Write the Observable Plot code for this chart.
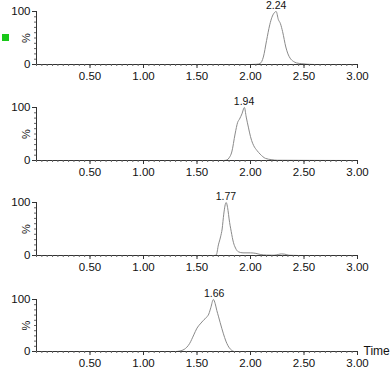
<!DOCTYPE html>
<html>
<head>
<meta charset="utf-8">
<script src="https://cdn.jsdelivr.net/npm/d3@7"></script>
<script src="https://cdn.jsdelivr.net/npm/@observablehq/plot@0.6"></script>
<style>
  html, body { margin: 0; padding: 0; background: #fff; }
  #wrap { position: relative; width: 392px; height: 368px; overflow: hidden; font-family: "Liberation Sans", Arial, sans-serif; }
  #marker { position: absolute; left: 2px; top: 34px; width: 7px; height: 7px; background: #19c819; }
</style>
</head>
<body>
<div id="wrap"><div id="marker"></div></div>
<script>
// Retention time (min) and relative intensity (%) for each trace
const t1 = [0, 2.00, 2.06, 2.09, 2.12, 2.15, 2.18, 2.20, 2.22, 2.24, 2.26, 2.28, 2.30, 2.33, 2.35, 2.37, 2.40, 2.43, 2.48, 2.53, 2.60, 3.00];
const v1 = [0, 0, 0.5, 2, 14, 45, 75, 89, 97, 100, 85, 77, 62, 33, 20, 12, 6, 3, 1.5, 0.5, 0, 0];

const t2 = [0, 1.75, 1.78, 1.80, 1.825, 1.856, 1.88, 1.897, 1.92, 1.943, 1.96, 1.98, 2.00, 2.01, 2.03, 2.06, 2.09, 2.14, 2.20, 2.25, 3.00];
const v2 = [0, 0, 1, 5, 16, 50, 72, 78, 88, 100, 82, 63, 45, 38, 28, 19, 12, 4, 1.5, 0.5, 0];

const t3 = [0, 1.66, 1.68, 1.70, 1.72, 1.735, 1.75, 1.772, 1.79, 1.80, 1.82, 1.84, 1.86, 1.887, 1.93, 2.00, 2.05, 2.09, 2.15, 2.22, 2.26, 2.29, 2.32, 2.36, 2.45, 3.00];
const v3 = [0, 0, 1, 20, 35, 50, 78, 100, 85, 69, 45, 25, 14, 7, 5, 5, 4, 2, 0.8, 0.5, 2, 3, 2.5, 0.5, 0, 0];

const t4 = [0, 1.30, 1.34, 1.38, 1.43, 1.47, 1.50, 1.53, 1.56, 1.59, 1.61, 1.63, 1.653, 1.67, 1.685, 1.70, 1.716, 1.747, 1.77, 1.79, 1.82, 1.85, 3.00];
const v4 = [0, 0, 1, 4, 15, 32, 45, 53, 60, 66, 72, 85, 100, 92, 79, 68, 56, 34, 20, 11, 3, 0, 0];

const traceTimes = [t1, t2, t3, t4];
const traceValues = [v1, v2, v3, v4];
const peakTimes = [2.24, 1.94, 1.77, 1.66];
const peakLabels = ["2.24", "1.94", "1.77", "1.66"];

const xTickValues = [0.5, 1.0, 1.5, 2.0, 2.5, 3.0];
const xTickLabels = ["0.50", "1.00", "1.50", "2.00", "2.50", "3.00"];
const yTickValues = [0, 100];
const yTickLabels = ["0", "100"];
const yAxisLabel = "%";
const xAxisLabel = "Time";

const panelTops = [0, 96, 191, 288];
const panelPlotHeights = [53, 53, 53, 52];

const xMinor = d3.range(0, 3.0001, 0.05).map(d => +d.toFixed(2));
const yMinor = d3.range(0, 100.001, 10);

const wrap = document.getElementById("wrap");
const font = "'Liberation Sans', Arial, sans-serif";

traceTimes.forEach((ts, i) => {
  const data = ts.map((t, j) => ({t, v: traceValues[i][j]}));
  const marginTop = 11, marginBottom = 20;
  const marks = [
    Plot.line(data, {x: "t", y: "v", stroke: "#8a8a8a", strokeWidth: 1, curve: "monotone-x"}),
    Plot.ruleY([0], {x1: 0, x2: 3, stroke: "#333", strokeWidth: 1}),
    Plot.ruleX([0], {y1: 0, y2: 100, stroke: "#333", strokeWidth: 1}),
    Plot.axisX({ticks: xMinor, tickSize: 2, tickFormat: () => "", label: null, stroke: "#666"}),
    Plot.axisX({ticks: xTickValues, tickSize: 4, tickPadding: 3, label: null,
      tickFormat: d => xTickLabels[xTickValues.indexOf(d)], stroke: "#333", fill: "#111", fontSize: 11.5}),
    Plot.axisY({ticks: yMinor, tickSize: 2, tickFormat: () => "", label: null, stroke: "#666"}),
    Plot.axisY({ticks: yTickValues, tickSize: 4, tickPadding: 2, label: null,
      tickFormat: d => yTickLabels[yTickValues.indexOf(d)], stroke: "#333", fill: "#111", fontSize: 11.5}),
    Plot.text([yAxisLabel], {frameAnchor: "left", dx: -10, rotate: -90, textAnchor: "middle", fontSize: 11, fill: "#111"}),
    Plot.text([peakLabels[i]], {x: peakTimes[i], y: 100, dy: -6, fontSize: 10.5, fill: "#111"})
  ];
  if (i === 3) {
    marks.push(Plot.text([xAxisLabel], {x: 3, y: 0, dx: 6, textAnchor: "start", fontSize: 12, fill: "#111"}));
  }
  const chart = Plot.plot({
    width: 392,
    height: marginTop + panelPlotHeights[i] + marginBottom,
    marginTop,
    marginBottom,
    marginLeft: 36,
    marginRight: 35,
    style: {fontFamily: font, background: "transparent", overflow: "visible"},
    x: {domain: [0, 3], axis: null},
    y: {domain: [0, 100], axis: null},
    marks
  });
  chart.style.position = "absolute";
  chart.style.left = "0px";
  chart.style.top = panelTops[i] + "px";
  wrap.appendChild(chart);
});
</script>
</body>
</html>
